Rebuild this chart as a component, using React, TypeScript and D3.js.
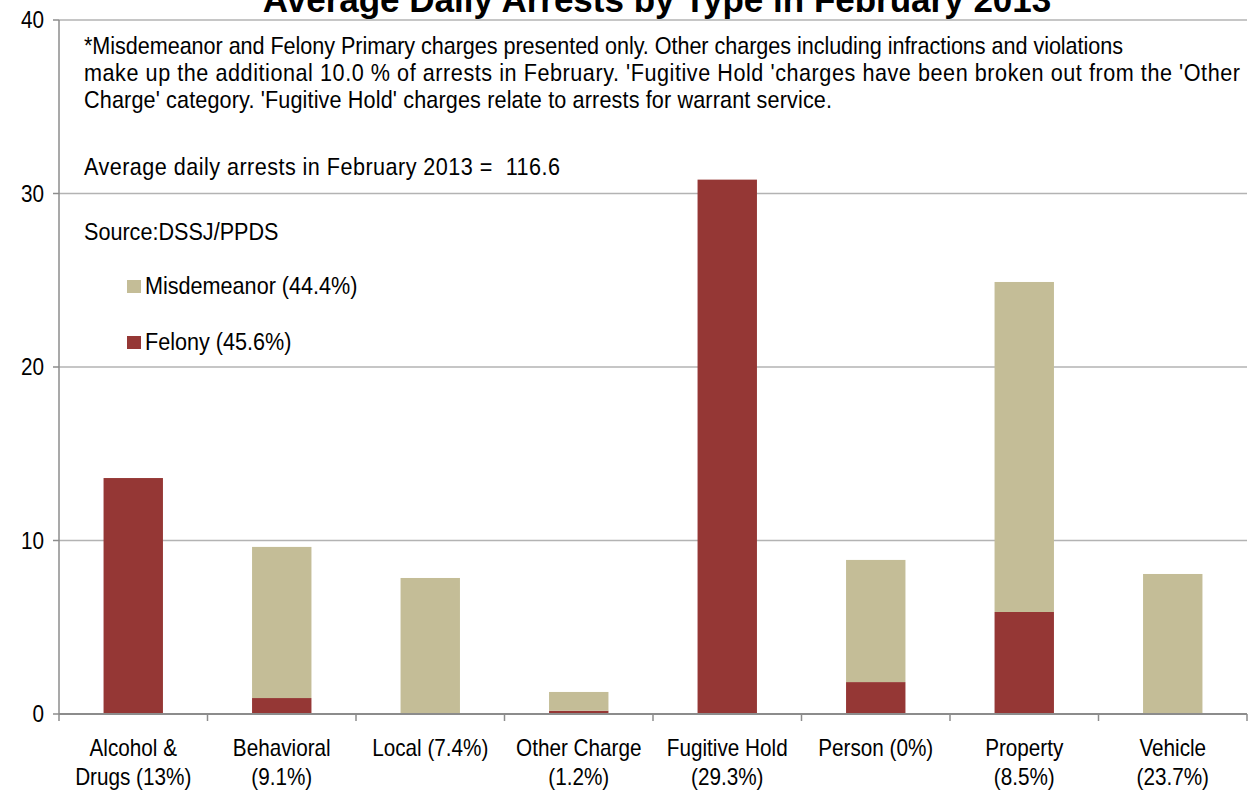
import React from 'react';
import * as d3 from 'd3';

const categories = [
  ['Alcohol &', 'Drugs (13%)'],
  ['Behavioral', '(9.1%)'],
  ['Local (7.4%)'],
  ['Other Charge', '(1.2%)'],
  ['Fugitive Hold', '(29.3%)'],
  ['Person (0%)'],
  ['Property', '(8.5%)'],
  ['Vehicle', '(23.7%)'],
];
const felony = [13.6, 0.92, 0, 0.19, 30.8, 1.84, 5.88, 0];
const misdemeanor = [0, 8.71, 7.84, 1.08, 0, 7.04, 19.02, 8.07];
const yTicks = [0, 10, 20, 30, 40];

const notes = [
  "*Misdemeanor and Felony Primary charges presented only. Other charges including infractions and violations",
  "make up the additional 10.0 % of arrests in February. 'Fugitive Hold 'charges have been broken out from the 'Other",
  "Charge' category. 'Fugitive Hold' charges relate to arrests for warrant service.",
];
// rendered widths of the note lines in the original
const noteWidths = [1039, 1156, 748];

const FELONY = '#953735';
const MISD = '#c4bd97';
const FONT = '"Liberation Sans", Arial, sans-serif';
const SX = 0.9; // squeeze to look like Arial Narrow

// text squeezed horizontally around its anchor point
const Narrow: React.FC<{
  x: number;
  y: number;
  size: number;
  anchor?: string;
  dy?: string;
  fit?: number;
  children: React.ReactNode;
}> = ({ x, y, size, anchor = 'start', dy, fit, children }) => (
  <text
    transform={`translate(${x},${y}) scale(${SX},1)`}
    textAnchor={anchor}
    fontSize={size}
    dy={dy}
    textLength={fit ? fit / SX : undefined}
    lengthAdjust={fit ? 'spacing' : undefined}
    style={{ whiteSpace: 'pre' }}
  >
    {children}
  </text>
);

const App: React.FC = () => {
  const width = 1257;
  const height = 792;
  const margin = { top: 20, right: 10, bottom: 78, left: 59 };

  const idx = categories.map((_, i) => i);
  const x = d3
    .scaleBand<number>()
    .domain(idx)
    .range([margin.left, width - margin.right])
    .paddingInner(0.6)
    .paddingOuter(0.3);
  const y = d3
    .scaleLinear()
    .domain([0, 40])
    .range([height - margin.bottom, margin.top]);

  const step = x.step();
  const boundaries = d3.range(categories.length + 1).map((i) => margin.left + i * step);

  return (
    <svg
      width={width}
      height={height}
      style={{ position: 'absolute', left: 0, top: 0, background: '#fff' }}
      fontFamily={FONT}
    >
      <text x={657} y={12} textAnchor="middle" fontWeight="bold" fontSize={35}>
        Average Daily Arrests by Type in February 2013
      </text>

      {/* grid + y ticks */}
      {yTicks.map((t) => (
        <g key={t}>
          {t > 0 && (
            <line x1={margin.left} x2={width - margin.right} y1={y(t)} y2={y(t)} stroke="#b3b3b3" strokeWidth={1.5} />
          )}
          <line x1={margin.left - 6} x2={margin.left} y1={y(t)} y2={y(t)} stroke="#8c8c8c" strokeWidth={1.5} />
          <Narrow x={44} y={y(t)} size={23} anchor="end" dy="0.35em">
            {t}
          </Narrow>
        </g>
      ))}

      {/* bars */}
      {idx.map((i) => (
        <g key={i}>
          {felony[i] > 0 && (
            <rect x={x(i)} width={x.bandwidth()} y={y(felony[i])} height={y(0) - y(felony[i])} fill={FELONY} />
          )}
          {misdemeanor[i] > 0 && (
            <rect
              x={x(i)}
              width={x.bandwidth()}
              y={y(felony[i] + misdemeanor[i])}
              height={y(felony[i]) - y(felony[i] + misdemeanor[i])}
              fill={MISD}
            />
          )}
        </g>
      ))}

      {/* axes */}
      <line x1={margin.left} x2={margin.left} y1={margin.top} y2={y(0)} stroke="#8c8c8c" strokeWidth={1.5} />
      <line x1={margin.left} x2={width - margin.right} y1={y(0)} y2={y(0)} stroke="#8c8c8c" strokeWidth={2} />
      {boundaries.map((b, i) => (
        <line key={i} x1={b} x2={b} y1={y(0)} y2={y(0) + 7} stroke="#8c8c8c" strokeWidth={1.5} />
      ))}
      {categories.map((lines, i) =>
        lines.map((l, j) => (
          <Narrow key={`${i}-${j}`} x={x(i)! + x.bandwidth() / 2} y={756 + j * 29} size={23} anchor="middle">
            {l}
          </Narrow>
        ))
      )}

      {/* notes */}
      {notes.map((n, i) => (
        <Narrow key={i} x={84} y={54 + i * 27} size={24} fit={noteWidths[i]}>
          {n}
        </Narrow>
      ))}
      <Narrow x={84} y={175} size={24} fit={476}>
        {'Average daily arrests in February 2013 =  116.6'}
      </Narrow>
      <Narrow x={84} y={240} size={24}>
        Source:DSSJ/PPDS
      </Narrow>

      {/* legend */}
      {[
        { label: 'Misdemeanor (44.4%)', color: MISD, y: 286 },
        { label: 'Felony (45.6%)', color: FELONY, y: 342 },
      ].map((d) => (
        <g key={d.label}>
          <rect x={127} y={d.y - 6} width={14} height={13} fill={d.color} />
          <Narrow x={145} y={d.y} size={24} dy="0.35em">
            {d.label}
          </Narrow>
        </g>
      ))}
    </svg>
  );
};

export default App;
